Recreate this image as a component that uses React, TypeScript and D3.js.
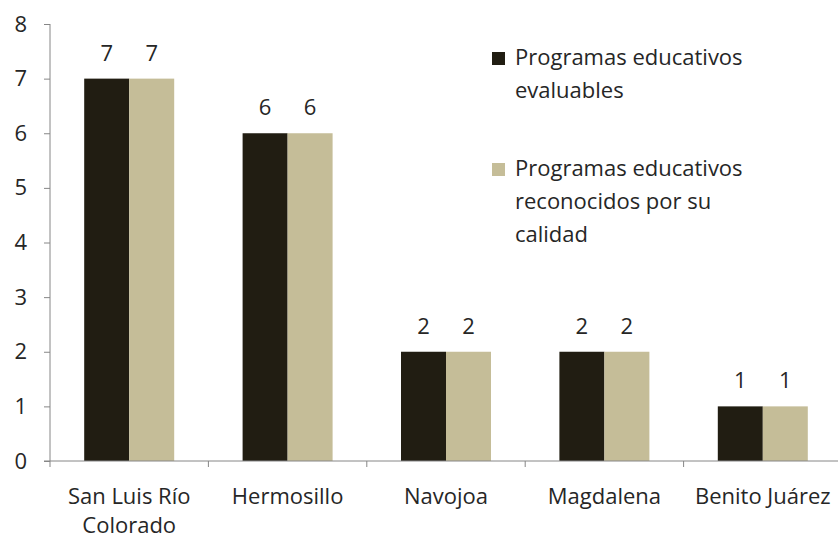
import React, { useEffect, useRef } from 'react';
import * as d3 from 'd3';

// Campus names (x categories), two lines where the label wraps
const campuses = ['San Luis Río Colorado', 'Hermosillo', 'Navojoa', 'Magdalena', 'Benito Juárez'];
const campusLines = [['San Luis Río', 'Colorado'], ['Hermosillo'], ['Navojoa'], ['Magdalena'], ['Benito Juárez']];

const seriesNames = ['Programas educativos evaluables', 'Programas educativos reconocidos por su calidad'];
const legendLines = [['Programas educativos', 'evaluables'], ['Programas educativos', 'reconocidos por su', 'calidad']];
const evaluables = [7, 6, 2, 2, 1];
const reconocidos = [7, 6, 2, 2, 1];
const yTicks = [0, 1, 2, 3, 4, 5, 6, 7, 8];

const colors = ['#211d12', '#c5bd98'];
const W = 838;
const H = 539;
const FONT = '"Open Sans", sans-serif';
const FS = 22;

const App = () => {
    const svgRef = useRef<SVGSVGElement>(null);

    useEffect(() => {
        if (!svgRef.current) return;
        const svg = d3.select(svgRef.current);
        svg.selectAll('*').remove();

        const m = { left: 50, right: -4, top: 24, bottom: 78 };
        const x = d3.scaleBand().domain(campuses).range([m.left, W - m.right]).paddingInner(0).paddingOuter(0);
        const y = d3.scaleLinear().domain([0, 8]).range([H - m.bottom, m.top]);
        const barW = 45;
        const sub = d3.scaleBand().domain(['0', '1']).range([0, barW * 2]);

        const axisColor = '#868686';

        // y axis
        const yAxis = svg.append('g').attr('transform', `translate(${m.left},0)`)
            .call(d3.axisLeft(y).tickValues(yTicks).tickFormat(d3.format('d')).tickSize(6).tickPadding(17));
        yAxis.select('.domain').attr('stroke', axisColor).attr('d', `M0,${y(8)}V${y(0)}`);
        yAxis.selectAll('.tick line').attr('stroke', axisColor);
        yAxis.selectAll('.tick text').attr('font-family', FONT).attr('font-size', FS).attr('fill', '#262626');

        // bars + value labels
        const series = [evaluables, reconocidos];
        series.forEach((vals, si) => {
            svg.append('g').selectAll('rect').data(vals).enter().append('rect')
                .attr('x', (_, i) => x(campuses[i])! + x.bandwidth() / 2 - barW + sub(String(si))!)
                .attr('y', d => y(d))
                .attr('width', sub.bandwidth())
                .attr('height', d => y(0) - y(d))
                .attr('fill', colors[si]);
            svg.append('g').selectAll('text').data(vals).enter().append('text')
                .attr('x', (_, i) => x(campuses[i])! + x.bandwidth() / 2 - barW + sub(String(si))! + sub.bandwidth() / 2)
                .attr('y', d => y(d) - 18)
                .attr('text-anchor', 'middle')
                .attr('font-family', FONT).attr('font-size', FS).attr('fill', '#262626')
                .text(d => d);
        });

        // x axis
        const xAxis = svg.append('g').attr('transform', `translate(0,${y(0)})`);
        xAxis.append('line').attr('x1', m.left - 6).attr('x2', W).attr('stroke', axisColor);
        campuses.forEach(c => {
            xAxis.append('line').attr('x1', x(c)!).attr('x2', x(c)!).attr('y1', 0).attr('y2', 6).attr('stroke', axisColor);
        });
        campusLines.forEach((lines, i) => {
            const t = xAxis.append('text')
                .attr('text-anchor', 'middle')
                .attr('font-family', FONT).attr('font-size', FS).attr('fill', '#262626');
            lines.forEach((ln, j) => {
                t.append('tspan').attr('x', x(campuses[i])! + x.bandwidth() / 2).attr('y', 43 + j * 29).text(ln);
            });
        });

        // legend
        const legendY = [52, 163];
        seriesNames.forEach((_, si) => {
            const g = svg.append('g').attr('transform', `translate(492,${legendY[si]})`);
            g.append('rect').attr('width', 13).attr('height', 13).attr('fill', colors[si]);
            const t = g.append('text').attr('font-family', FONT).attr('font-size', FS).attr('fill', '#262626');
            legendLines[si].forEach((ln, j) => {
                t.append('tspan').attr('x', 23).attr('y', 13 + j * 33).text(ln);
            });
        });
    }, []);

    return (
        <div style={{ position: 'absolute', left: 0, top: 0 }}>
            <svg ref={svgRef} width={W} height={H} style={{ display: 'block', background: '#fff' }} />
        </div>
    );
};

export default App;
